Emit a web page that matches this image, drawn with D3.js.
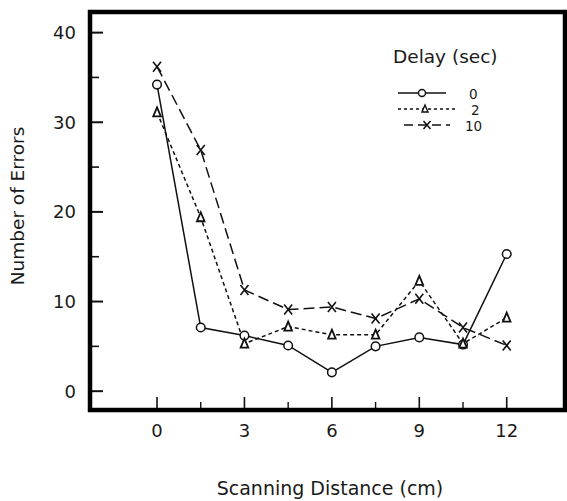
<!DOCTYPE html>
<html><head><meta charset="utf-8">
<script src="https://cdn.jsdelivr.net/npm/d3@7"></script>
<style>body{margin:0;background:#fff}svg{display:block}text{font-family:"DejaVu Sans",sans-serif;fill:#1a1a1a}</style>
</head><body><svg id="c" width="567" height="501"></svg>
<script>
const distances = [0, 1.5, 3, 4.5, 6, 7.5, 9, 10.5, 12];
const delay0 = [34.2, 7.1, 6.2, 5.1, 2.1, 5.0, 6.0, 5.2, 15.3];
const delay2 = [31.1, 19.4, 5.3, 7.2, 6.3, 6.3, 12.3, 5.3, 8.2];
const delay10 = [36.2, 26.9, 11.3, 9.1, 9.4, 8.1, 10.3, 7.1, 5.1];
const xTicks = [0, 3, 6, 9, 12];
const xMinor = [1.5, 4.5, 7.5, 10.5];
const yTicks = [0, 10, 20, 30, 40];
const yMinor = [5, 15, 25, 35];
const seriesNames = ["0", "2", "10"];

const svg = d3.select("#c");
const L = 90, R = 565, T = 12, B = 410;
const x = d3.scaleLinear().domain([-2.3, 14]).range([L, R]);
const y = d3.scaleLinear().domain([-2.1, 42.3]).range([B, T]);

const g = svg.append("g");
yTicks.forEach(v => {
  g.append("line").attr("x1", L).attr("x2", L + 13).attr("y1", y(v)).attr("y2", y(v)).attr("stroke", "#111").attr("stroke-width", 2);
  g.append("text").attr("x", 76).attr("y", y(v) + 6.5).attr("text-anchor", "end").attr("font-size", 18).text(v);
});
yMinor.forEach(v => {
  g.append("line").attr("x1", L).attr("x2", L + 9).attr("y1", y(v)).attr("y2", y(v)).attr("stroke", "#111").attr("stroke-width", 1.6);
});
xTicks.forEach(v => {
  g.append("line").attr("x1", x(v)).attr("x2", x(v)).attr("y1", B).attr("y2", B - 13).attr("stroke", "#111").attr("stroke-width", 1.6);
  g.append("text").attr("x", x(v)).attr("y", 437).attr("text-anchor", "middle").attr("font-size", 18).text(v);
});
xMinor.forEach(v => {
  g.append("line").attr("x1", x(v)).attr("x2", x(v)).attr("y1", B).attr("y2", B - 8).attr("stroke", "#111").attr("stroke-width", 1.4);
});

svg.append("rect").attr("x", L).attr("y", T).attr("width", R - L).attr("height", B - T)
  .attr("fill", "none").attr("stroke", "#000").attr("stroke-width", 4.5);

svg.append("text").attr("x", 330).attr("y", 495).attr("text-anchor", "middle").attr("font-size", 19).text("Scanning Distance (cm)");
svg.append("text").attr("transform", "translate(24,206) rotate(-90)").attr("text-anchor", "middle").attr("font-size", 18.5).text("Number of Errors");

const line = d3.line().x((d, i) => x(distances[i])).y(d => y(d));
const styles = [
  {data: delay0, dash: null, marker: "circle"},
  {data: delay2, dash: "4,3", marker: "triangle"},
  {data: delay10, dash: "11,5", marker: "x"}
];

function drawMarker(sel, type, cx, cy) {
  if (type === "circle") {
    sel.append("circle").attr("cx", cx).attr("cy", cy).attr("r", 4.3).attr("fill", "#fff").attr("stroke", "#111").attr("stroke-width", 1.5);
  } else if (type === "triangle") {
    sel.append("path").attr("d", `M${cx},${cy - 5}L${cx + 3.8},${cy + 4}L${cx - 3.8},${cy + 4}Z`).attr("fill", "#fff").attr("stroke", "#111").attr("stroke-width", 1.8);
  } else {
    sel.append("path").attr("d", `M${cx - 4},${cy - 5}L${cx + 4},${cy + 5}M${cx + 4},${cy - 5}L${cx - 4},${cy + 5}`).attr("stroke", "#111").attr("stroke-width", 1.6);
  }
}

const plot = svg.append("g");
styles.forEach(s => {
  plot.append("path").datum(s.data).attr("d", line).attr("fill", "none").attr("stroke", "#111").attr("stroke-width", 1.5)
    .attr("stroke-dasharray", s.dash);
});
styles.forEach(s => {
  s.data.forEach((v, i) => drawMarker(plot, s.marker, x(distances[i]), y(v)));
});

const lg = svg.append("g");
lg.append("text").attr("x", 393).attr("y", 63).attr("font-size", 18.5).text("Delay (sec)");
const rows = [
  {y: 93, x1: 398, x2: 446, mx: 422, lx: 469},
  {y: 109, x1: 398, x2: 456, mx: 425, lx: 471},
  {y: 125, x1: 404, x2: 450, mx: 427, lx: 465}
];
rows.forEach((r, i) => {
  lg.append("line").attr("x1", r.x1).attr("x2", r.x2).attr("y1", r.y).attr("y2", r.y).attr("stroke", "#111").attr("stroke-width", 1.5)
    .attr("stroke-dasharray", i === 1 ? "3,3" : i === 2 ? "9,5" : null);
  if (i === 2) {
    lg.append("path").attr("d", `M${r.mx - 3.5},${r.y - 4}L${r.mx + 3.5},${r.y + 4}M${r.mx + 3.5},${r.y - 4}L${r.mx - 3.5},${r.y + 4}`).attr("stroke", "#111").attr("stroke-width", 1.5);
  } else if (i === 0) {
    lg.append("circle").attr("cx", r.mx).attr("cy", r.y).attr("r", 3.5).attr("fill", "#fff").attr("stroke", "#111").attr("stroke-width", 1.4);
  } else {
    lg.append("path").attr("d", `M${r.mx},${r.y - 4}L${r.mx + 3},${r.y + 3}L${r.mx - 3},${r.y + 3}Z`).attr("fill", "#fff").attr("stroke", "#111").attr("stroke-width", 1.4);
  }
  lg.append("text").attr("x", r.lx).attr("y", r.y + 5.5).attr("font-size", 13.5).text(seriesNames[i]);
});
</script></body></html>
